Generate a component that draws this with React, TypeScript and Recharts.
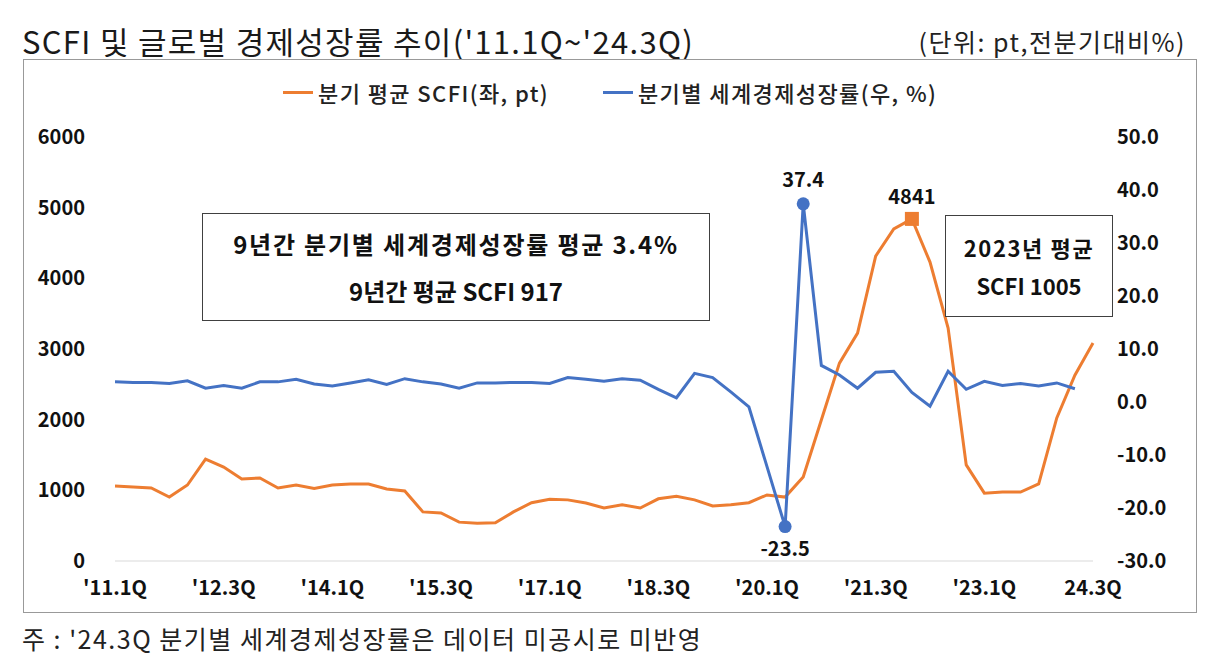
import { Legend, Line, LineChart, XAxis, YAxis } from "recharts";

// 2011Q1 ~ 2024Q3, labels as printed in the source chart
const quarters = [
  "'11.1Q", "'11.2Q", "'11.3Q", "'11.4Q",
  "'12.1Q", "'12.2Q", "'12.3Q", "'12.4Q",
  "'13.1Q", "'13.2Q", "'13.3Q", "'13.4Q",
  "'14.1Q", "'14.2Q", "'14.3Q", "'14.4Q",
  "'15.1Q", "'15.2Q", "'15.3Q", "'15.4Q",
  "'16.1Q", "'16.2Q", "'16.3Q", "'16.4Q",
  "'17.1Q", "'17.2Q", "'17.3Q", "'17.4Q",
  "'18.1Q", "'18.2Q", "'18.3Q", "'18.4Q",
  "'19.1Q", "'19.2Q", "'19.3Q", "'19.4Q",
  "'20.1Q", "'20.2Q", "'20.3Q", "'20.4Q",
  "'21.1Q", "'21.2Q", "'21.3Q", "'21.4Q",
  "'22.1Q", "'22.2Q", "'22.3Q", "'22.4Q",
  "'23.1Q", "'23.2Q", "'23.3Q", "'23.4Q",
  "'24.1Q", "'24.2Q", "24.3Q",
];

// quarterly average SCFI (pt)
const scfi = [
  1060, 1047, 1033, 905,
  1075, 1443, 1330, 1160,
  1175, 1033, 1075, 1025,
  1075, 1090, 1090, 1020,
  990, 695, 680, 550,
  535, 540, 695, 825,
  875, 865, 820, 750,
  795, 750, 880, 915,
  865, 780, 795, 825,
  935, 905, 1190, 1995,
  2800, 3225, 4315, 4700,
  4841, 4230, 3295, 1360,
  960, 975, 975, 1090,
  2025, 2630, 3085,
];

// global growth rate, q/q (%); 24.3Q not published yet
const growth = [
  3.8, 3.7, 3.7, 3.5,
  4.0, 2.6, 3.1, 2.6,
  3.8, 3.8, 4.3, 3.4,
  3.0, 3.6, 4.2, 3.3,
  4.4, 3.8, 3.4, 2.6,
  3.6, 3.6, 3.7, 3.7,
  3.5, 4.6, 4.3, 3.9,
  4.4, 4.1, 2.4, 0.8,
  5.4, 4.6, 1.9, -0.9,
  -12.2, -23.5, 37.4, 6.9,
  5.1, 2.6, 5.6, 5.8,
  1.8, -0.8, 5.8, 2.4,
  3.9, 3.1, 3.5, 3.0,
  3.6, 2.5, null,
];

const leftTicks = [0, 1000, 2000, 3000, 4000, 5000, 6000];
const rightTicks = [-30, -20, -10, 0, 10, 20, 30, 40, 50];

const ORANGE = "#ED7D31";
const BLUE = "#4472C4";
const FONT = '"Noto Sans CJK KR", "Noto Sans", sans-serif';

const rows = quarters.map((quarter, i) => ({
  quarter,
  scfi: scfi[i],
  growth: growth[i],
}));

const scfiPeak = scfi.indexOf(Math.max(...scfi));
const growthValues = growth.filter((v): v is number => v !== null);
const growthPeak = growth.indexOf(Math.max(...growthValues));
const growthLow = growth.indexOf(Math.min(...growthValues));

const tickStyle = { fontSize: 20, fontWeight: 700, fill: "#111", fontFamily: FONT };

function ScfiDot(props: any) {
  const { cx, cy, index, payload } = props;
  if (index !== scfiPeak) return <g key={`sd-${index}`} />;
  return (
    <g key={`sd-${index}`}>
      <rect x={cx - 7} y={cy - 7} width={14} height={14} fill={ORANGE} />
      <text x={cx} y={cy - 15} textAnchor="middle" {...tickStyle}>
        {payload.scfi}
      </text>
    </g>
  );
}

function GrowthDot(props: any) {
  const { cx, cy, index, payload } = props;
  if (index !== growthPeak && index !== growthLow) return <g key={`gd-${index}`} />;
  const above = index === growthPeak;
  return (
    <g key={`gd-${index}`}>
      <circle cx={cx} cy={cy} r={6.5} fill={BLUE} />
      <text x={cx} y={above ? cy - 17 : cy + 29} textAnchor="middle" {...tickStyle}>
        {payload.growth.toFixed(1)}
      </text>
    </g>
  );
}

function LegendContent({ payload }: any) {
  return (
    <div
      style={{
        display: "flex",
        gap: 54,
        fontFamily: FONT,
        fontSize: 22,
        fontWeight: 500,
        letterSpacing: 1.4,
        color: "#222",
        paddingLeft: 283,
      }}
    >
      {(payload || []).map((item: any) => (
        <div key={item.value} style={{ display: "flex", alignItems: "center" }}>
          <span
            style={{ display: "inline-block", width: 30, height: 3, background: item.color, marginRight: 5 }}
          />
          <span>{item.value}</span>
        </div>
      ))}
    </div>
  );
}

const boxStyle = {
  position: "absolute" as const,
  border: "1px solid #404040",
  background: "#fff",
  display: "flex",
  flexDirection: "column" as const,
  justifyContent: "center",
  alignItems: "center",
  fontFamily: FONT,
  fontWeight: 700,
  color: "#111",
  boxSizing: "border-box" as const,
};

export default function App() {
  return (
    <div
      style={{
        position: "absolute",
        left: 0,
        top: 0,
        width: 1224,
        height: 658,
        background: "#fff",
        fontFamily: FONT,
        overflow: "hidden",
      }}
    >
      <div
        style={{
          position: "absolute",
          left: 22,
          top: 21,
          fontSize: 31,
          letterSpacing: 1.3,
          lineHeight: "40px",
          color: "#1a1a1a",
        }}
      >
        SCFI 및 글로벌 경제성장률 추이('11.1Q~'24.3Q)
      </div>
      <div
        style={{
          position: "absolute",
          right: 38,
          top: 23,
          fontSize: 25,
          letterSpacing: 1.5,
          lineHeight: "36px",
          color: "#222",
        }}
      >
        (단위: pt,전분기대비%)
      </div>

      <div
        style={{
          position: "absolute",
          left: 23,
          top: 59,
          width: 1174,
          height: 554,
          border: "1px solid #999",
          boxSizing: "border-box",
        }}
      />

      <div style={{ position: "absolute", left: 0, top: 0 }}>
        <LineChart
          width={1224}
          height={658}
          data={rows}
          margin={{ top: 137, right: 71, bottom: 57, left: 55 }}
        >
          <XAxis
            dataKey="quarter"
            interval={5}
            tickLine={false}
            tickSize={0}
            tickMargin={20}
            axisLine={{ stroke: "#d9d9d9" }}
            tick={tickStyle}
            height={40}
          />
          <YAxis
            yAxisId="left"
            domain={[0, 6000]}
            ticks={leftTicks}
            axisLine={false}
            tickLine={false}
            tickSize={0}
            tickMargin={30}
            tick={tickStyle}
            width={60}
          />
          <YAxis
            yAxisId="right"
            orientation="right"
            domain={[-30, 50]}
            ticks={rightTicks}
            axisLine={false}
            tickLine={false}
            tickSize={0}
            tickMargin={24}
            tick={tickStyle}
            tickFormatter={(v: number) => v.toFixed(1)}
            width={60}
          />
          <Legend
            verticalAlign="middle"
            align="center"
            content={<LegendContent />}
            wrapperStyle={{ top: 76, left: 0, width: 1224 }}
          />
          <Line
            yAxisId="left"
            dataKey="scfi"
            name="분기 평균 SCFI(좌, pt)"
            stroke={ORANGE}
            strokeWidth={3}
            dot={ScfiDot}
            activeDot={false}
            isAnimationActive={false}
          />
          <Line
            yAxisId="right"
            dataKey="growth"
            name="분기별 세계경제성장률(우, %)"
            stroke={BLUE}
            strokeWidth={3}
            dot={GrowthDot}
            activeDot={false}
            isAnimationActive={false}
          />
        </LineChart>
      </div>

      <div style={{ ...boxStyle, left: 202, top: 213, width: 508, height: 108, gap: 12, fontSize: 24 }}>
        <div style={{ letterSpacing: 1.8 }}>9년간 분기별 세계경제성장률 평균 3.4%</div>
        <div>9년간 평균 SCFI 917</div>
      </div>
      <div style={{ ...boxStyle, left: 945, top: 215, width: 168, height: 102, gap: 6, fontSize: 22 }}>
        <div style={{ letterSpacing: 1.6 }}>2023년 평균</div>
        <div>SCFI 1005</div>
      </div>

      <div
        style={{
          position: "absolute",
          left: 22,
          top: 620,
          fontSize: 25,
          letterSpacing: 1.5,
          lineHeight: "36px",
          color: "#222",
        }}
      >
        주 : '24.3Q 분기별 세계경제성장률은 데이터 미공시로 미반영
      </div>
    </div>
  );
}
